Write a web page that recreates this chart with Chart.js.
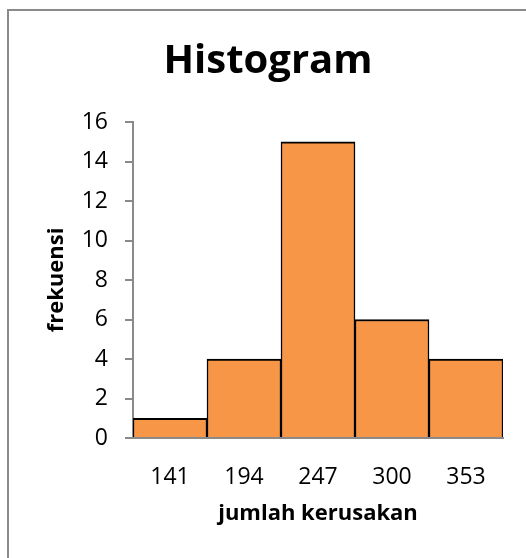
<!DOCTYPE html>
<html>
<head>
<meta charset="utf-8">
<script src="https://cdn.jsdelivr.net/npm/chart.js@4/dist/chart.umd.min.js"></script>
<style>
  html, body { margin: 0; padding: 0; background: #fff; }
  #wrap { position: relative; width: 526px; height: 558px; overflow: hidden; }
  #frame {
    position: absolute; left: 7px; top: 9px; width: 600px; height: 600px;
    border: 2px solid #8a8a8a; box-sizing: border-box; pointer-events: none;
  }
  canvas { position: absolute; left: 0; top: 0; }
</style>
</head>
<body>
<div id="wrap">
  <canvas id="histChart" width="526" height="558"></canvas>
  <div id="frame"></div>
</div>
<script>
// data
const binLabels = ['141', '194', '247', '300', '353'];
const frequencies = [1, 4, 15, 6, 4];
const yMax = 16;
const yStep = 2;

const chartTitle = 'Histogram';
const xTitle = 'jumlah kerusakan';
const yTitle = 'frekuensi';

const fontFamily = "'Open Sans', 'Noto Sans', sans-serif";
const axisGray = '#8a8a8a';

const ctx = document.getElementById('histChart').getContext('2d');

new Chart(ctx, {
  type: 'bar',
  data: {
    labels: binLabels,
    datasets: [{
      label: yTitle,
      data: frequencies,
      backgroundColor: '#F79646',
      borderColor: '#000000',
      borderWidth: { top: 2, left: 1.5, right: 1.5, bottom: 0 },
      borderSkipped: false,
      barPercentage: 1.0,
      categoryPercentage: 1.0
    }]
  },
  options: {
    responsive: false,
    animation: false,
    layout: {
      padding: { left: 33, right: 23, top: 20, bottom: 31 }
    },
    plugins: {
      legend: { display: false },
      tooltip: { enabled: false },
      title: {
        display: true,
        text: chartTitle,
        color: '#000',
        font: { family: fontFamily, size: 40, weight: 'bold' },
        padding: { top: 18, bottom: 36 }
      }
    },
    scales: {
      x: {
        grid: { display: false, drawTicks: false },
        border: { display: true, color: axisGray, width: 2 },
        ticks: {
          color: '#000',
          padding: 26,
          font: { family: fontFamily, size: 23 }
        },
        title: {
          display: true,
          text: xTitle,
          color: '#000',
          font: { family: fontFamily, size: 22, weight: 'bold' },
          padding: { top: 0, bottom: 0 }
        },
        afterFit: (scale) => { scale.height = 89; }
      },
      y: {
        min: 0,
        max: yMax,
        grid: {
          drawOnChartArea: false,
          drawTicks: true,
          tickLength: 8,
          color: axisGray,
          lineWidth: 2
        },
        border: { display: true, color: axisGray, width: 2 },
        ticks: {
          stepSize: yStep,
          color: '#000',
          padding: 17,
          font: { family: fontFamily, size: 23 }
        },
        title: {
          display: true,
          text: yTitle,
          color: '#000',
          font: { family: fontFamily, size: 22, weight: 'bold' },
          padding: { top: 11, bottom: 0 }
        },
        afterFit: (scale) => { scale.width = 100; }
      }
    }
  }
});
</script>
</body>
</html>
